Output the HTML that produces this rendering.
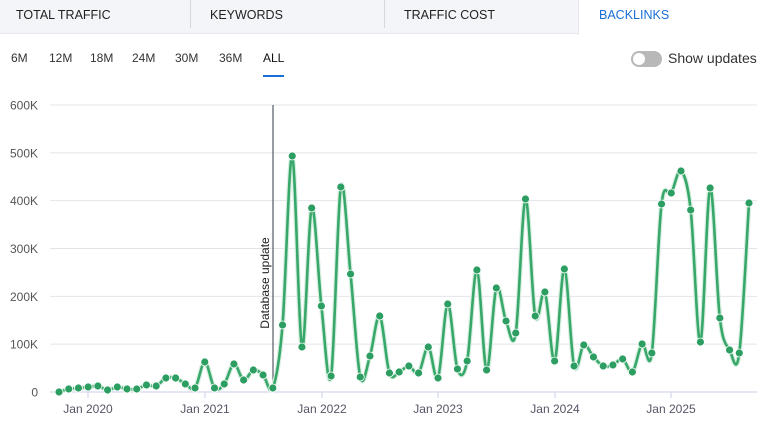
<!DOCTYPE html>
<html><head><meta charset="utf-8"><style>
body{margin:0;width:772px;height:427px;overflow:hidden;background:#fff;font-family:"Liberation Sans",sans-serif;position:relative}
.tabs{position:absolute;left:0;top:0;width:772px;height:34px;background:#f4f5f8;border-bottom:1px solid #e6e8ee;box-sizing:border-box}
.tab{position:absolute;top:0;height:34px;line-height:30px;font-size:12.5px;color:#222;padding-left:16px;box-sizing:border-box}
.sep{position:absolute;top:0;width:1px;height:28px;background:#d5d8e0}
.active{background:#fff;color:#1a6fd8;border-left:1px solid #e6e8ee;height:35px}
.rng{position:absolute;top:51px;font-size:12px;color:#333}
</style></head><body>
<div class="tabs">
<div class="tab" style="left:0">TOTAL TRAFFIC</div>
<div class="sep" style="left:190px"></div>
<div class="tab" style="left:194px">KEYWORDS</div>
<div class="sep" style="left:384px"></div>
<div class="tab" style="left:388px">TRAFFIC COST</div>
<div class="tab active" style="left:578px;width:194px;padding-left:20px">BACKLINKS</div>
</div>
<div class="rng" style="left:11px">6M</div>
<div class="rng" style="left:49px">12M</div>
<div class="rng" style="left:90px">18M</div>
<div class="rng" style="left:132px">24M</div>
<div class="rng" style="left:175px">30M</div>
<div class="rng" style="left:219px">36M</div>
<div class="rng" style="left:263px;color:#111">ALL</div>
<div style="position:absolute;left:263px;top:75px;width:21px;height:2px;background:#1a6fd8"></div>
<div style="position:absolute;left:631px;top:51px;width:31px;height:16px;border-radius:8px;background:#b8b8b8"></div>
<div style="position:absolute;left:633px;top:53px;width:12px;height:12px;border-radius:6px;background:#fff"></div>
<div style="position:absolute;left:668px;top:50px;font-size:14px;color:#333">Show updates</div>
<svg id="s" width="772" height="427" style="position:absolute;left:0;top:0" font-family="Liberation Sans, sans-serif"></svg>
<script>
var s=document.getElementById('s'),h='';
var labs=['600K','500K','400K','300K','200K','100K','0'];
for(var i=0;i<7;i++){var y=105+i*47.83;h+='<line x1="50" x2="757" y1="'+y+'" y2="'+y+'" stroke="'+(i==6?'#c9cde8':'#e2e4ea')+'"/>';
h+='<text x="38" y="'+(y+4.5)+'" font-size="12" fill="#555" text-anchor="end">'+labs[i]+'</text>';}
var tx=[[88,'Jan 2020'],[205,'Jan 2021'],[322,'Jan 2022'],[438,'Jan 2023'],[555,'Jan 2024'],[671,'Jan 2025']];
tx.forEach(function(t){h+='<line x1="'+t[0]+'" x2="'+t[0]+'" y1="392" y2="398" stroke="#c9cde8"/><text x="'+t[0]+'" y="413" font-size="12" fill="#556" text-anchor="middle">'+t[1]+'</text>';});
h+='<line x1="273" x2="273" y1="105" y2="392" stroke="#555a66" stroke-width="1.2"/>';
h+='<text transform="translate(269,283) rotate(-90)" font-size="12" fill="#222" text-anchor="middle">Database update</text>';
var ys=[392,389,388,387,386,390,387,389,389,385,386,378,378,384,388,362,388,384,364,380,370,375,388,325,156,347,208,306,376,187,274,377,356,316,373,372,366,373,347,378,304,369,361,270,370,288,321,333,199,316,292,361,269,366,345,357,366,365,359,372,344,353,204,193,171,210,342,188,318,350,353,203];
var n=ys.length,P=[];for(i=0;i<n;i++)P.push([59+i*(690/(n-1)),ys[i]]);
var d='M'+P[0][0]+','+P[0][1];
for(i=0;i<n-1;i++){var p0=P[Math.max(i-1,0)],p1=P[i],p2=P[i+1],p3=P[Math.min(i+2,n-1)];
d+=' C'+(p1[0]+(p2[0]-p0[0])/6)+','+(p1[1]+(p2[1]-p0[1])/6)+' '+(p2[0]-(p3[0]-p1[0])/6)+','+(p2[1]-(p3[1]-p1[1])/6)+' '+p2[0]+','+p2[1];}
h+='<path d="'+d+'" fill="none" stroke="#d9efe2" stroke-width="5"/><path d="'+d+'" fill="none" stroke="#38a86a" stroke-width="2.6"/>';
P.forEach(function(p){h+='<circle cx="'+p[0]+'" cy="'+p[1]+'" r="4" fill="#2d9e62" stroke="#fff" stroke-width="0.8"/>';});
s.innerHTML=h;
</script>
</body></html>
